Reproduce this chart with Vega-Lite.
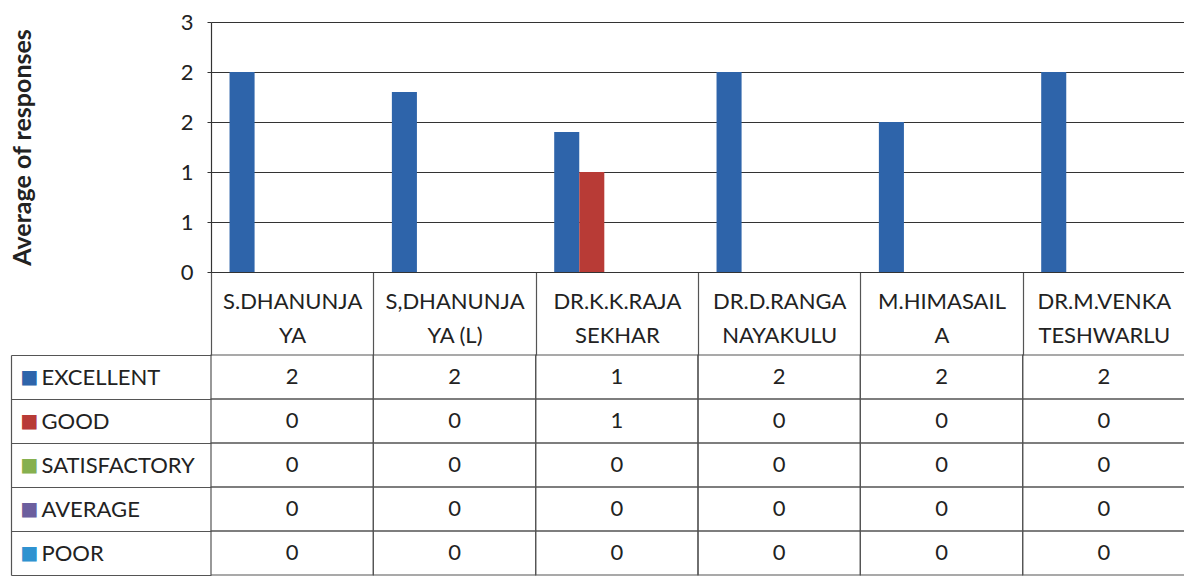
{
  "$schema": "https://vega.github.io/schema/vega-lite/v6.json",
  "padding": {"left": 10, "top": 11, "right": 0, "bottom": 3},
  "spacing": 83,
  "bounds": "flush",
  "config": {
    "view": {"stroke": null},
    "font": "Lato",
    "axis": {"labelFont": "Lato", "titleFont": "Lato", "titleColor": "#222222"}
  },
  "data": {
    "values": [
      {"lecturer": "S.DHANUNJAYA", "rating": "EXCELLENT", "average": 2.0},
      {"lecturer": "S.DHANUNJAYA", "rating": "GOOD", "average": 0},
      {"lecturer": "S.DHANUNJAYA", "rating": "SATISFACTORY", "average": 0},
      {"lecturer": "S.DHANUNJAYA", "rating": "AVERAGE", "average": 0},
      {"lecturer": "S.DHANUNJAYA", "rating": "POOR", "average": 0},
      {"lecturer": "S,DHANUNJAYA (L)", "rating": "EXCELLENT", "average": 1.8},
      {"lecturer": "S,DHANUNJAYA (L)", "rating": "GOOD", "average": 0},
      {"lecturer": "S,DHANUNJAYA (L)", "rating": "SATISFACTORY", "average": 0},
      {"lecturer": "S,DHANUNJAYA (L)", "rating": "AVERAGE", "average": 0},
      {"lecturer": "S,DHANUNJAYA (L)", "rating": "POOR", "average": 0},
      {"lecturer": "DR.K.K.RAJA SEKHAR", "rating": "EXCELLENT", "average": 1.4},
      {"lecturer": "DR.K.K.RAJA SEKHAR", "rating": "GOOD", "average": 1.0},
      {"lecturer": "DR.K.K.RAJA SEKHAR", "rating": "SATISFACTORY", "average": 0},
      {"lecturer": "DR.K.K.RAJA SEKHAR", "rating": "AVERAGE", "average": 0},
      {"lecturer": "DR.K.K.RAJA SEKHAR", "rating": "POOR", "average": 0},
      {"lecturer": "DR.D.RANGA NAYAKULU", "rating": "EXCELLENT", "average": 2.0},
      {"lecturer": "DR.D.RANGA NAYAKULU", "rating": "GOOD", "average": 0},
      {"lecturer": "DR.D.RANGA NAYAKULU", "rating": "SATISFACTORY", "average": 0},
      {"lecturer": "DR.D.RANGA NAYAKULU", "rating": "AVERAGE", "average": 0},
      {"lecturer": "DR.D.RANGA NAYAKULU", "rating": "POOR", "average": 0},
      {"lecturer": "M.HIMASAILA", "rating": "EXCELLENT", "average": 1.5},
      {"lecturer": "M.HIMASAILA", "rating": "GOOD", "average": 0},
      {"lecturer": "M.HIMASAILA", "rating": "SATISFACTORY", "average": 0},
      {"lecturer": "M.HIMASAILA", "rating": "AVERAGE", "average": 0},
      {"lecturer": "M.HIMASAILA", "rating": "POOR", "average": 0},
      {"lecturer": "DR.M.VENKATESHWARLU", "rating": "EXCELLENT", "average": 2.0},
      {"lecturer": "DR.M.VENKATESHWARLU", "rating": "GOOD", "average": 0},
      {"lecturer": "DR.M.VENKATESHWARLU", "rating": "SATISFACTORY", "average": 0},
      {"lecturer": "DR.M.VENKATESHWARLU", "rating": "AVERAGE", "average": 0},
      {"lecturer": "DR.M.VENKATESHWARLU", "rating": "POOR", "average": 0}
    ]
  },
  "vconcat": [
    {
      "width": 974,
      "height": 250,
      "mark": {"type": "bar"},
      "encoding": {
        "x": {
          "field": "lecturer",
          "type": "nominal",
          "sort": null,
          "scale": {"paddingInner": 0, "paddingOuter": 0},
          "axis": {
            "title": null,
            "labelAngle": 0,
            "labelExpr": "indexof(datum.label, ' ') > 0 && indexof(datum.label, ' ') <= 11 ? [slice(datum.label, 0, indexof(datum.label, ' ')), slice(datum.label, indexof(datum.label, ' ') + 1)] : [slice(datum.label, 0, 10), slice(datum.label, 10)]",
            "labelFontSize": 22,
            "labelLineHeight": 34,
            "labelBaseline": "alphabetic",
            "labelPadding": -47,
            "labelLimit": 300,
            "labelColor": "#222222",
            "tickBand": "extent",
            "tickSize": 83,
            "tickColor": "#555555",
            "tickWidth": 1.2,
            "domainColor": "#333333",
            "domainWidth": 1.2
          }
        },
        "xOffset": {
          "field": "rating",
          "type": "nominal",
          "sort": ["EXCELLENT", "GOOD", "SATISFACTORY", "AVERAGE", "POOR"],
          "scale": {"paddingInner": 0, "paddingOuter": 0.74}
        },
        "y": {
          "field": "average",
          "type": "quantitative",
          "scale": {"domain": [0, 2.5], "nice": false},
          "axis": {
            "values": [0, 0.5, 1, 1.5, 2, 2.5],
            "labelExpr": "'' + round(datum.value)",
            "title": "Average of responses",
            "titleFontSize": 25,
            "titleFontWeight": "bold",
            "titlePadding": 145,
            "labelFontSize": 22,
            "labelPadding": 14,
            "labelColor": "#222222",
            "tickSize": 4,
            "tickColor": "#333333",
            "grid": true,
            "gridColor": "#333333",
            "gridWidth": 1.2,
            "domainColor": "#333333",
            "domainWidth": 1.2
          }
        },
        "color": {
          "field": "rating",
          "type": "nominal",
          "scale": {
            "domain": ["EXCELLENT", "GOOD", "SATISFACTORY", "AVERAGE", "POOR"],
            "range": ["#2e64aa", "#b83b36", "#86b04f", "#6c5f9e", "#2f92d0"]
          },
          "legend": null
        }
      }
    },
    {
      "width": 974,
      "height": 220,
      "layer": [
        {
          "mark": {"type": "text", "fontSize": 22, "color": "#222222"},
          "encoding": {
            "x": {"field": "lecturer", "type": "nominal", "sort": null, "scale": {"paddingInner": 0, "paddingOuter": 0}, "axis": null},
            "y": {
              "field": "rating",
              "type": "nominal",
              "sort": ["EXCELLENT", "GOOD", "SATISFACTORY", "AVERAGE", "POOR"],
              "scale": {"paddingInner": 0, "paddingOuter": 0},
              "axis": {
                "orient": "left",
                "title": null,
                "domain": false,
                "tickBand": "extent",
                "tickSize": 200,
                "tickColor": "#555555",
                "tickWidth": 1.2,
                "labelAlign": "left",
                "labelPadding": -30,
                "labelFontSize": 22,
                "labelColor": "#222222",
                "labelLimit": 300
              }
            },
            "text": {"field": "average", "type": "quantitative", "format": ".0f"}
          }
        },
        {
          "mark": {"type": "rect", "fill": null, "fillOpacity": 0, "stroke": "#555555", "strokeWidth": 1.2},
          "encoding": {
            "x": {"field": "lecturer", "type": "nominal", "sort": null, "axis": null},
            "y": {
              "field": "rating",
              "type": "nominal",
              "sort": ["EXCELLENT", "GOOD", "SATISFACTORY", "AVERAGE", "POOR"],
              "axis": {
                "orient": "left",
                "title": null,
                "offset": 200,
                "domain": true,
                "domainColor": "#555555",
                "domainWidth": 1.2,
                "ticks": false,
                "tickSize": 0,
                "labelExpr": "'■'",
                "labelFont": "DejaVu Sans",
                "labelFontSize": 19,
                "labelAlign": "left",
                "labelPadding": -9,
                "labelColor": {
                  "condition": [
                    {"test": "datum.value === 'EXCELLENT'", "value": "#2e64aa"},
                    {"test": "datum.value === 'GOOD'", "value": "#b83b36"},
                    {"test": "datum.value === 'SATISFACTORY'", "value": "#86b04f"},
                    {"test": "datum.value === 'AVERAGE'", "value": "#6c5f9e"}
                  ],
                  "value": "#2f92d0"
                }
              }
            }
          }
        }
      ],
      "resolve": {"axis": {"y": "independent"}}
    }
  ]
}
